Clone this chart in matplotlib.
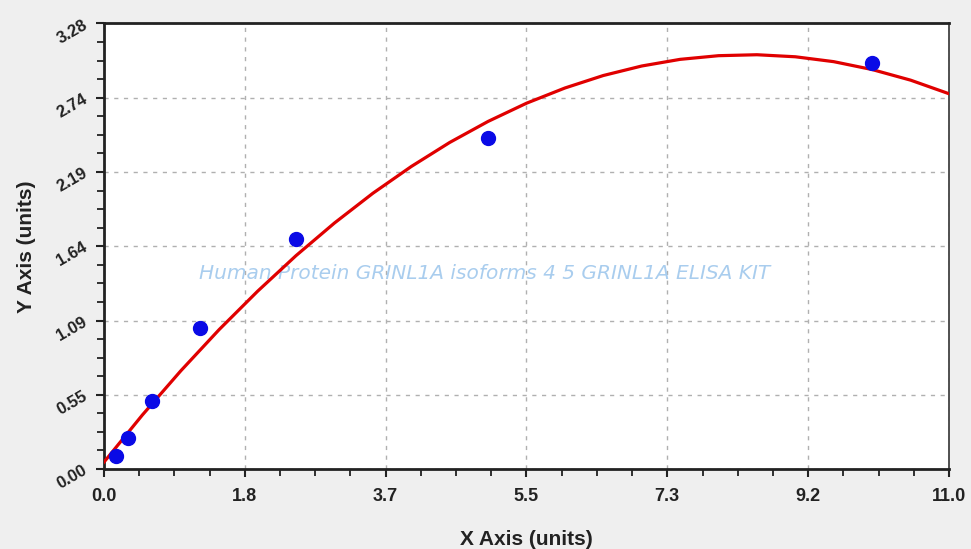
import matplotlib
matplotlib.use('Agg')
import matplotlib.pyplot as plt
from matplotlib.ticker import FixedLocator, AutoMinorLocator

# standard points
conc = [0.156, 0.3125, 0.625, 1.25, 2.5, 5.0, 10.0]
od = [0.096, 0.228, 0.50, 1.04, 1.695, 2.44, 2.99]

# fitted curve
curve_x = [0.0, 0.5, 1.0, 1.5, 2.0, 2.5, 3.0, 3.5, 4.0, 4.5, 5.0, 5.5,
           6.0, 6.5, 7.0, 7.5, 8.0, 8.5, 9.0, 9.5, 10.0, 10.5, 11.0]
curve_y = [0.051, 0.398, 0.723, 1.027, 1.309, 1.571, 1.811, 2.030, 2.227,
           2.404, 2.559, 2.693, 2.805, 2.897, 2.967, 3.016, 3.043, 3.050,
           3.035, 2.999, 2.941, 2.863, 2.763]

x_ticks = [0.0, 11/6, 22/6, 33/6, 44/6, 55/6, 11.0]
x_labels = ['0.0', '1.8', '3.7', '5.5', '7.3', '9.2', '11.0']
y_ticks = [0.0, 3.28/6, 2*3.28/6, 3*3.28/6, 4*3.28/6, 5*3.28/6, 3.28]
y_labels = ['0.00', '0.55', '1.09', '1.64', '2.19', '2.74', '3.28']

plt.rcParams['font.family'] = ['Liberation Sans', 'DejaVu Sans']

fig = plt.figure(figsize=(9.71, 5.49), dpi=100, facecolor='#efefef')
ax = fig.add_axes([0.1071, 0.1457, 0.8702, 0.8115])
ax.set_facecolor('white')

ax.plot(curve_x, curve_y, color='#e00000', lw=2.3, zorder=3)
ax.plot(conc, od, 'o', color='#0a0ae6', markersize=10, zorder=4)

ax.set_xlim(0, 11)
ax.set_ylim(0, 3.28)
ax.xaxis.set_major_locator(FixedLocator(x_ticks))
ax.yaxis.set_major_locator(FixedLocator(y_ticks))
ax.set_xticklabels(x_labels, fontsize=13, fontweight='bold', color='#222222')
ax.set_yticklabels(y_labels, fontsize=12, fontweight='bold', color='#222222',
                   rotation=30, va='center', ha='right', rotation_mode='anchor')
ax.xaxis.set_minor_locator(AutoMinorLocator(4))
ax.yaxis.set_minor_locator(AutoMinorLocator(4))
ax.tick_params(which='major', direction='out', length=6, width=1.5, color='#222222')
ax.tick_params(which='minor', direction='out', length=5, width=1.3, color='#222222')
ax.tick_params(axis='x', pad=8)
ax.tick_params(axis='y', pad=7)

ax.grid(True, which='major', color='#b0b0b0', linestyle=(0, (3, 4)), lw=1)
for s in ['left', 'bottom', 'top']:
    ax.spines[s].set_linewidth(2)
    ax.spines[s].set_color('#222222')
ax.spines['right'].set_linewidth(1.2)
ax.spines['right'].set_color('#333333')

ax.set_xlabel('X Axis (units)', fontsize=15, fontweight='bold', color='#222222', labelpad=18)
ax.set_ylabel('Y Axis (units)', fontsize=15, fontweight='bold', color='#222222', labelpad=13)

ax.text(4.95, 1.44, 'Human Protein GRINL1A isoforms 4 5 GRINL1A ELISA KIT',
        fontsize=14.5, style='italic', color='#a9cdee', ha='center', va='center',
        family=['DejaVu Sans'], zorder=2)

fig.savefig('out.png', dpi=100, facecolor=fig.get_facecolor())
